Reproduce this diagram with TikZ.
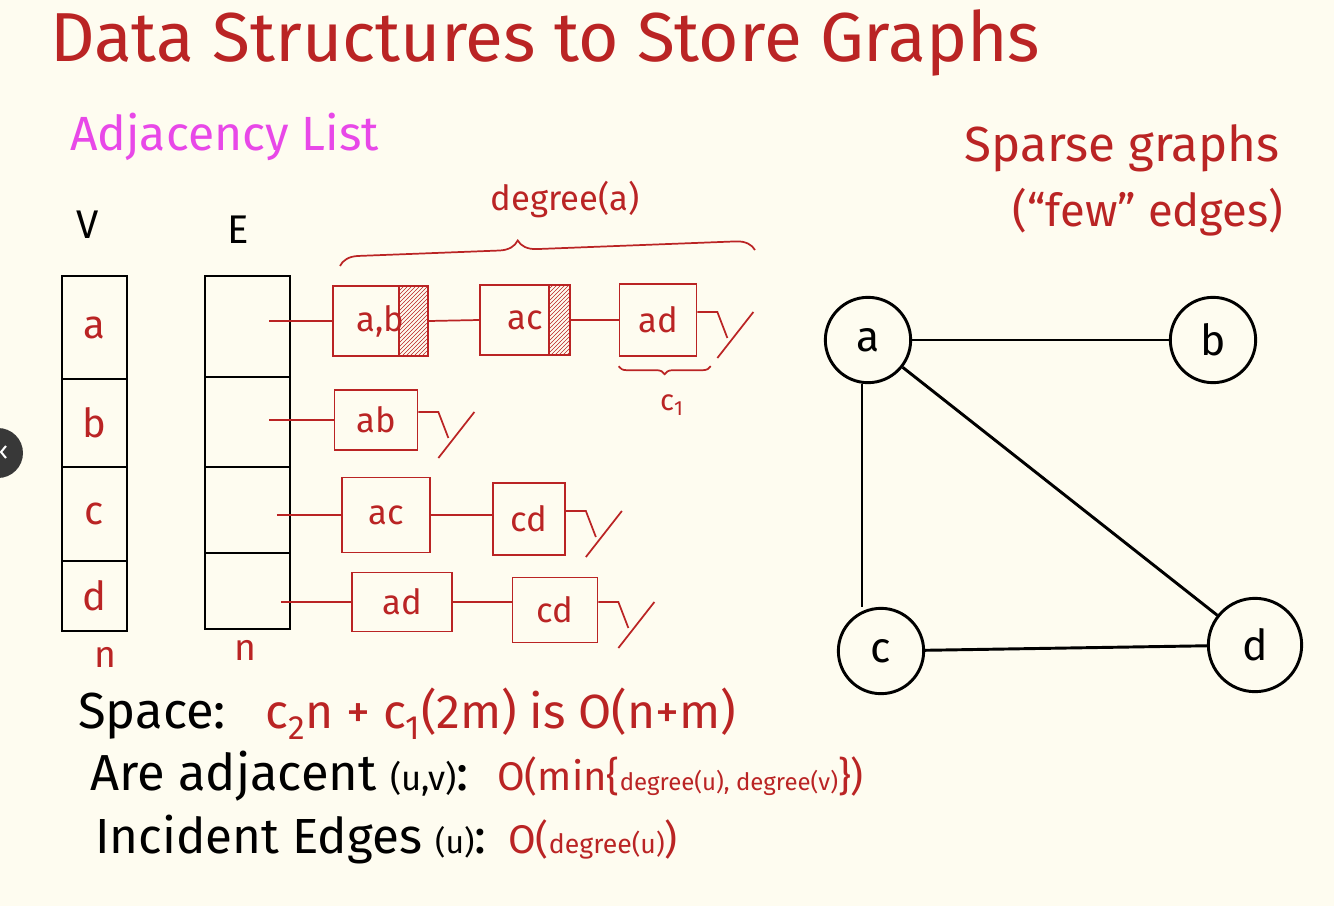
\documentclass[tikz,border=0pt]{standalone}
\usepackage{fontspec}
\setmainfont{Fira Sans}
\usetikzlibrary{positioning,patterns,decorations.pathreplacing}
\definecolor{ink}{RGB}{186,36,36}
\definecolor{pinkink}{RGB}{232,72,232}
\definecolor{paper}{RGB}{254,252,240}
\newcommand{\handsize}[1]{\fontsize{#1}{#1}\selectfont}
\def\px{0.75pt}
\tikzset{
	listbox/.style={draw=ink, line width=1.3pt, inner sep=0pt, text=ink, font=\handsize{26}},
	listline/.style={draw=ink, line width=1.3pt},
	redtext/.style={text=ink, inner sep=0pt},
	cell/.style={draw, line width=2.2pt, inner sep=0pt, font=\handsize{30}, text=ink},
	vertex/.style={circle, draw, line width=2.2pt, minimum size=64pt, inner sep=0pt, font=\handsize{32}},
	graphedge/.style={line width=2.2pt},
}
\begin{document}
\begin{tikzpicture}[x=0.75pt, y=-0.75pt]
			% Khung nền giấy
			\fill[paper] (0,0) rectangle (1334,906);
			\useasboundingbox (0,0) rectangle (1334,906);
			\fill[black!78] (-2,453) circle (25);
			\draw[white, line width=1.5pt] (6,446) -- (1,452) -- (6,458);
			
			% 1. Tiêu đề
			\node[anchor=base west, redtext, font=\handsize{52}] (title) at (50,62) {Data Structures to Store Graphs};
			\node[anchor=base west, text=pinkink, inner sep=0pt, font=\handsize{36}] (adjlist) at (70,150) {Adjacency List};
			
			% 2. Mảng V và E
			\node[font=\handsize{30}] (lblV) at (88,225) {V};
			\node[font=\handsize{30}] (lblE) at (238,230) {E};
			\foreach \name/\y/\h in {a/327.5/103, b/423/88, c/514/94, d/596/70}
				\node[cell, minimum width=65*\px, minimum height=\h*\px] (v-\name) at (94.5,\y) {\name};
			\foreach \name/\y/\h in {a/326.5/101, b/422/90, c/510/86, d/591/76}
				\node[cell, minimum width=85*\px, minimum height=\h*\px] (e-\name) at (247.5,\y) {};
			\node[redtext, font=\handsize{28}] (nV) at (105,657) {n};
			\node[redtext, font=\handsize{28}] (nE) at (245,650) {n};
			
			% Ký hiệu kết thúc danh sách (null)
			\def\nullend#1{
				\draw[listline] ([yshift=6pt]#1.east) -- ++(20,0) -- ++(10,26);
				\draw[listline] ([yshift=6pt]#1.east) ++(56,0) -- ++(-36,46);
			}
			
			% 3. Danh sách kề
			% Hàng a
			\node[listbox, minimum width=95*\px, minimum height=70*\px] (a1) at (380.5,321) {a,b\hspace{20pt}};
			\node[listbox, minimum width=90*\px, minimum height=70*\px] (a2) at (525,320) {ac\hspace{15pt}};
			\node[listbox, minimum width=77*\px, minimum height=72*\px] (a3) at (658,320) {ad};
			\fill[pattern=north east lines, pattern color=ink] ([xshift=-22.5pt]a1.north east) rectangle (a1.south east);
			\draw[listline] ([xshift=-22.5pt]a1.north east) -- ([xshift=-22.5pt]a1.south east);
			\fill[pattern=north east lines, pattern color=ink] ([xshift=-16.5pt]a2.north east) rectangle (a2.south east);
			\draw[listline] ([xshift=-16.5pt]a2.north east) -- ([xshift=-16.5pt]a2.south east);
			\draw[listline] ([xshift=-16.5pt]e-a.east |- a1.west) -- (a1.west);
			\draw[listline] (a1.east) -- (a2.west);
			\draw[listline] (a2.east) -- (a3.west);
			\nullend{a3}
			% Hàng b
			\node[listbox, minimum width=83*\px, minimum height=60*\px] (b1) at (376,420) {ab};
			\draw[listline] ([xshift=-16.5pt]e-b.east |- b1.west) -- (b1.west);
			\nullend{b1}
			% Hàng c
			\node[listbox, minimum width=88*\px, minimum height=75*\px] (c1) at (386,515) {ac};
			\node[listbox, minimum width=72*\px, minimum height=72*\px] (c2) at (529,519) {cd};
			\draw[listline] ([xshift=-11pt]e-c.east |- c1.west) -- (c1.west);
			\draw[listline] (c1.east) -- (c2.west |- c1.east);
			\nullend{c2}
			% Hàng d
			\node[listbox, minimum width=100*\px, minimum height=59*\px] (d1) at (402,602) {ad};
			\node[listbox, minimum width=85*\px, minimum height=65*\px] (d2) at (555,610) {cd};
			\draw[listline] ([xshift=-7.5pt]e-d.east |- d1.west) -- (d1.west);
			\draw[listline] (d1.east) -- (d2.west |- d1.east);
			\nullend{d2}
			
			% 4. Ngoặc degree(a) và c1
			\draw[listline, decorate, decoration={brace, amplitude=14pt, aspect=0.43}] (340,266) -- (755,250);
			\node[redtext, font=\handsize{26}] (deglbl) at (565,200) {degree(a)};
			\draw[listline, decorate, decoration={brace, amplitude=6pt, mirror}] ([yshift=-7pt]a3.south west) -- ([yshift=-7pt, xshift=10pt]a3.south east);
			\node[redtext, font=\handsize{22}] (cone) at (672,405) {c\textsubscript{1}};
			
			% 5. Đồ thị
			\node[redtext, font=\handsize{37}] (sparse) at (1122,148) {Sparse graphs};
			\node[redtext, font=\handsize{34}] (few) at (1148,212) {(“few” edges)};
			\node[vertex] (ga) at (868,340) {a};
			\node[vertex] (gb) at (1213,340) {b};
			\node[vertex] (gc) at (881,651) {c};
			\node[vertex, minimum size=70pt] (gd) at (1255,645) {d};
			\draw[graphedge] (ga) -- (gb);
			\draw[graphedge] ([xshift=-4.5pt]ga.south) -- ([xshift=-4.5pt]ga.south |- gc.north);
			\draw[graphedge] (ga) -- (gd);
			\draw[graphedge] (gc) -- (gd);
			
			% 6. Độ phức tạp
			\node[anchor=base west, inner sep=0pt, font=\handsize{38}] (space) at (78,728) {Space:};
			\node[anchor=base west, redtext, font=\handsize{36}] (spacecost) at (265,728) {c\textsubscript{2}n + c\textsubscript{1}(2m) is O(n+m)};
			\node[anchor=base west, inner sep=0pt, font=\handsize{38}] (adj) at (90,790) {Are adjacent {\handsize{26}(u,v)}:};
			\node[anchor=base west, redtext, font=\handsize{30}] (adjcost) at (497,790) {O(min\{{\handsize{18}degree(u), degree(v)}\})};
			\node[anchor=base west, inner sep=0pt, font=\handsize{37}] (inc) at (95,853) {Incident Edges {\handsize{24}(u)}:};
			\node[anchor=base west, redtext, font=\handsize{30}] (inccost) at (508,853) {O({\handsize{20}degree(u)})};
			
		\end{tikzpicture}
\end{document}
